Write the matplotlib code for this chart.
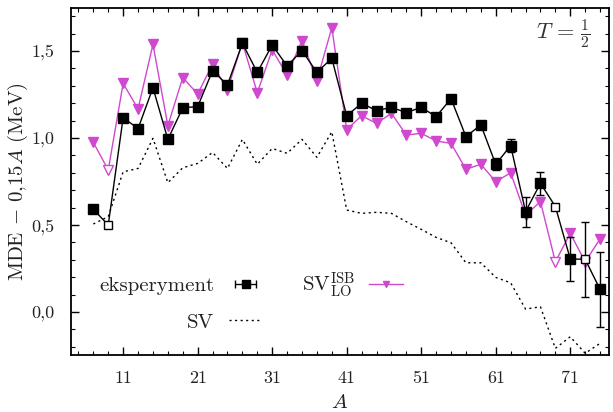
import numpy as np
import matplotlib
matplotlib.use("Agg")
import matplotlib.pyplot as plt
from matplotlib.lines import Line2D

plt.rcParams['font.family'] = 'serif'
plt.rcParams['font.serif'] = ['cmr10']
plt.rcParams['mathtext.fontset'] = 'cm'
plt.rcParams['axes.unicode_minus'] = False

# mass numbers
A = [7, 9, 11, 13, 15, 17, 19, 21, 23, 25, 27, 29, 31, 33, 35, 37, 39, 41, 43, 45,
     47, 49, 51, 53, 55, 57, 59, 61, 63, 65, 67, 69, 71, 73, 75]

# experiment (MDE - 0.15A, MeV)
exp_vals = [0.59, 0.50, 1.117, 1.054, 1.289, 0.992, 1.174, 1.18, 1.387, 1.305,
            1.544, 1.377, 1.534, 1.414, 1.502, 1.377, 1.458, 1.127, 1.20, 1.157,
            1.176, 1.146, 1.176, 1.123, 1.226, 1.008, 1.075, 0.849, 0.956, 0.577,
            0.74, 0.606, 0.305, 0.303, 0.13]
exp_err = [0, 0, 0, 0, 0, 0, 0, 0, 0, 0,
           0, 0, 0, 0, 0, 0, 0, 0, 0, 0,
           0, 0, 0, 0, 0, 0, 0, 0.035, 0.037, 0.086,
           0.065, 0, 0.126, 0.217, 0.217]
# open markers (estimated values)
open_A = [9, 69, 73]

# SV_LO^ISB
isb_vals = [0.975, 0.816, 1.314, 1.167, 1.538, 1.071, 1.347, 1.253, 1.424, 1.276,
            1.548, 1.26, 1.506, 1.362, 1.56, 1.33, 1.634, 1.048, 1.128, 1.084,
            1.142, 1.017, 1.027, 0.983, 0.969, 0.82, 0.849, 0.749, 0.80, 0.557,
            0.634, 0.289, 0.452, 0.289, 0.42]

# SV
sv_vals = [0.506, 0.548, 0.806, 0.825, 0.998, 0.743, 0.829, 0.854, 0.917, 0.825,
           0.992, 0.849, 0.94, 0.912, 0.992, 0.889, 1.036, 0.586, 0.567, 0.573,
           0.567, 0.519, 0.475, 0.429, 0.398, 0.283, 0.283, 0.199, 0.168, 0.017,
           0.03, -0.209, -0.142, -0.237, -0.18]

magenta = '#d048d0'
dotted = (0, (1.5, 2.5))

fig = plt.figure(figsize=(6.13, 4.12), dpi=100)
ax = fig.add_axes([0.1158, 0.1383, 0.8777, 0.8423])

A_arr = np.array(A)
exp_arr = np.array(exp_vals)
isb_arr = np.array(isb_vals)
is_open = np.isin(A_arr, open_A)

# SV dotted line
ax.plot(A, sv_vals, color='black', lw=1.0, ls=dotted)

# SV_LO^ISB
ax.plot(A, isb_vals, color=magenta, lw=1.0)
ax.plot(A_arr[~is_open], isb_arr[~is_open], ls='none', marker='v', ms=7,
        color=magenta, mec=magenta)
ax.plot(A_arr[is_open], isb_arr[is_open], ls='none', marker='v', ms=7,
        mfc='white', mec=magenta, mew=1.0)

# experiment
ax.errorbar(A, exp_vals, yerr=exp_err, color='black', lw=1.0, elinewidth=1.0,
            capsize=3, capthick=1.0, fmt='none')
ax.plot(A, exp_vals, color='black', lw=1.0)
ax.plot(A_arr[~is_open], exp_arr[~is_open], ls='none', marker='s', ms=6.5,
        color='black')
ax.plot(A_arr[is_open], exp_arr[is_open], ls='none', marker='s', ms=6,
        mfc='white', mec='black', mew=1.0)

ax.set_xlim(4, 76.2)
ax.set_ylim(-0.247, 1.747)
ax.set_xticks([11, 21, 31, 41, 51, 61, 71])
ax.set_xticks(np.arange(5, 77, 2), minor=True)
ax.set_yticks([0.0, 0.5, 1.0, 1.5])
ax.set_yticklabels(['0,0', '0,5', '1,0', '1,5'])
ax.set_yticks(np.arange(-0.2, 1.75, 0.1), minor=True)
ax.tick_params(which='both', direction='in', top=True, right=True, labelsize=13,
               labelcolor='#222222')
ax.tick_params(which='major', length=6, width=1.0)
ax.tick_params(which='minor', length=3, width=0.8)
ax.tick_params(axis='x', pad=11)
ax.tick_params(axis='y', pad=12)
for s in ax.spines.values():
    s.set_linewidth(1.3)

ax.set_xlabel('$A$', fontsize=15, labelpad=6, color='#222222')
ax.set_ylabel(r'MDE $-$ 0,15$A$ (MeV)', fontsize=15, labelpad=1, color='#222222')

ax.text(0.965, 0.925, r'$T\,=\,\frac{1}{2}$', transform=ax.transAxes,
        ha='right', va='center', fontsize=16, color='#333333')

# legend
h_exp = ax.errorbar([np.nan], [np.nan], xerr=[np.nan], fmt='s', color='black',
                    ms=6, lw=1.0, elinewidth=1.0, capsize=3, capthick=1.0)
h_sv = Line2D([], [], color='black', lw=1.0, ls=dotted)
h_isb = Line2D([], [], color=magenta, marker='v', ms=5, lw=1.0)
ax.legend([h_exp, h_sv, h_isb],
          ['eksperyment', 'SV', r'SV$_{\mathrm{LO}}^{\mathrm{ISB}}$'],
          ncol=2, markerfirst=False, frameon=False, fontsize=15,
          loc='lower left', bbox_to_anchor=(0.018, 0.013),
          handlelength=1.6, columnspacing=1.9, labelspacing=0.85,
          handletextpad=0.7, labelcolor='#222222')

fig.savefig('out.png', dpi=100)
